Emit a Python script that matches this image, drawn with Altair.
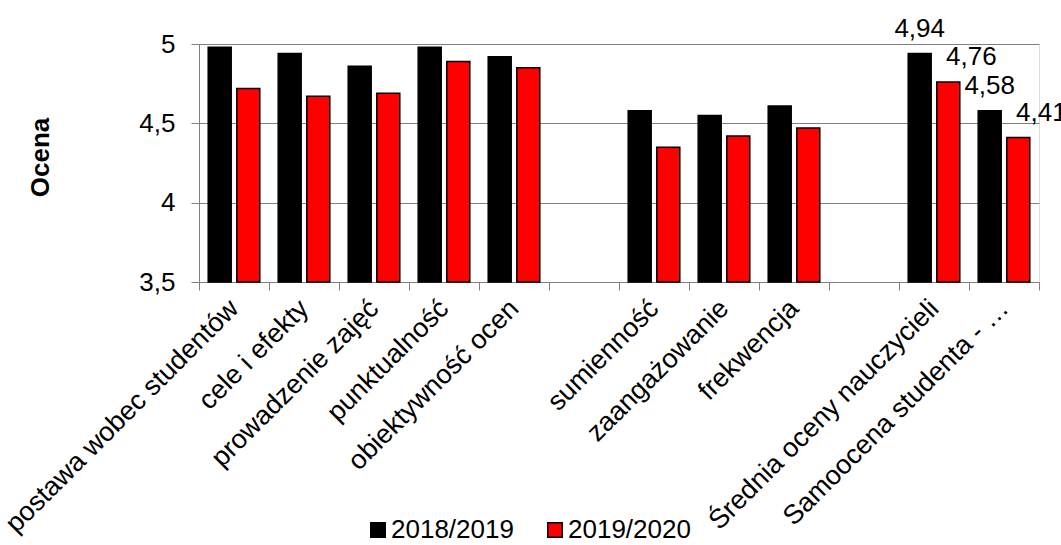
import altair as alt
import pandas as pd

# Categories in display order; blank entries are spacer columns between groups
categories = [
    "postawa wobec studentów",
    "cele i efekty",
    "prowadzenie zajęć",
    "punktualność",
    "obiektywność ocen",
    " ",
    "sumienność",
    "zaangażowanie",
    "frekwencja",
    "  ",
    "Średnia oceny nauczycieli",
    "Samoocena studenta - …",
]
series = ["2018/2019", "2019/2020"]
values_2018 = [4.98, 4.94, 4.86, 4.98, 4.92, None, 4.58, 4.55, 4.61, None, 4.94, 4.58]
values_2019 = [4.72, 4.67, 4.69, 4.89, 4.85, None, 4.35, 4.42, 4.47, None, 4.76, 4.41]
labeled = ["Średnia oceny nauczycieli", "Samoocena studenta - …"]
y_ticks = [3.5, 4, 4.5, 5]
y_min, y_max = 3.5, 5
colors = ["#000000", "#ff0000"]

rows = []
for cat, a, b in zip(categories, values_2018, values_2019):
    if a is not None:
        rows.append({"kategoria": cat, "rok": series[0], "ocena": a})
    if b is not None:
        rows.append({"kategoria": cat, "rok": series[1], "ocena": b})
df = pd.DataFrame(rows)
df["baza"] = y_min

FONT = "Liberation Sans"
GRAY = "#808080"

x_enc = alt.X(
    "kategoria:N",
    scale=alt.Scale(domain=categories, paddingInner=0, paddingOuter=0),
    sort=categories,
    axis=alt.Axis(
        title=None,
        labelAngle=-45,
        labelAlign="right",
        labelBaseline="middle",
        labelFontSize=27,
        labelFont=FONT,
        labelColor="#000000",
        labelPadding=14,
        labelOverlap=False,
        labelLimit=0,
        tickBand="extent",
        tickColor=GRAY,
        tickSize=8,
        domainColor=GRAY,
        grid=False,
    ),
)
xoff_enc = alt.XOffset(
    "rok:N",
    scale=alt.Scale(domain=series, paddingInner=0.196, paddingOuter=0.322),
    sort=series,
)
y_scale = alt.Scale(domain=[y_min, y_max], zero=False, nice=False)

bars = alt.Chart(df).mark_bar(stroke="#000000", strokeWidth=1.5).encode(
    x=x_enc,
    xOffset=xoff_enc,
    y=alt.Y(
        "ocena:Q",
        scale=y_scale,
        axis=alt.Axis(
            title="Ocena",
            titleFont=FONT,
            titleFontSize=26,
            titleFontWeight="bold",
            titleColor="#000000",
            titleAngle=270,
            titleX=-159,
            titleY=113,
            titleAlign="center",
            titleBaseline="middle",
            values=y_ticks,
            labelExpr="replace(format(datum.value, '.1~f'), '.', ',')",
            labelFont=FONT,
            labelFontSize=26,
            labelColor="#000000",
            labelPadding=16,
            tickColor=GRAY,
            tickSize=8,
            domainColor=GRAY,
            gridColor=GRAY,
            gridWidth=1,
        ),
    ),
    y2="baza:Q",
    color=alt.Color(
        "rok:N",
        scale=alt.Scale(domain=series, range=colors),
        legend=alt.Legend(
            title=None,
            orient="none",
            direction="horizontal",
            legendX=166,
            legendY=473,
            symbolType="square",
            symbolSize=210,
            symbolStrokeColor="#000000",
            symbolStrokeWidth=1.5,
            symbolOpacity=1,
            labelFont=FONT,
            labelFontSize=26,
            labelColor="#000000",
            labelOffset=0,
            columnPadding=28,
        ),
    ),
)

label_base = alt.Chart(df).transform_filter(
    alt.FieldOneOfPredicate(field="kategoria", oneOf=labeled)
).transform_calculate(
    etykieta="replace(format(datum.ocena, '.2f'), '.', ',')"
)

labels_first = label_base.transform_filter(
    alt.datum.rok == series[0]
).mark_text(font=FONT, fontSize=26, color="#000000", baseline="alphabetic", dy=-17).encode(
    x=alt.X("kategoria:N", scale=alt.Scale(domain=categories), sort=categories),
    xOffset=xoff_enc,
    y=alt.Y("ocena:Q", scale=y_scale),
    text="etykieta:N",
)

labels_second = label_base.transform_filter(
    alt.datum.rok == series[1]
).mark_text(font=FONT, fontSize=26, color="#000000", baseline="alphabetic", dy=-17, dx=23).encode(
    x=alt.X("kategoria:N", scale=alt.Scale(domain=categories), sort=categories),
    xOffset=xoff_enc,
    y=alt.Y("ocena:Q", scale=y_scale),
    text="etykieta:N",
)

chart = alt.layer(bars, labels_first, labels_second).properties(
    width=840,
    height=238,
    autosize=alt.AutoSizeParams(type="none"),
    padding={"left": 199, "top": 44, "right": 22, "bottom": 263},
).configure_view(
    stroke=GRAY, strokeWidth=1
).configure(
    background="white"
)

chart.save("out.html", embed_options={"renderer": "svg", "actions": False})
